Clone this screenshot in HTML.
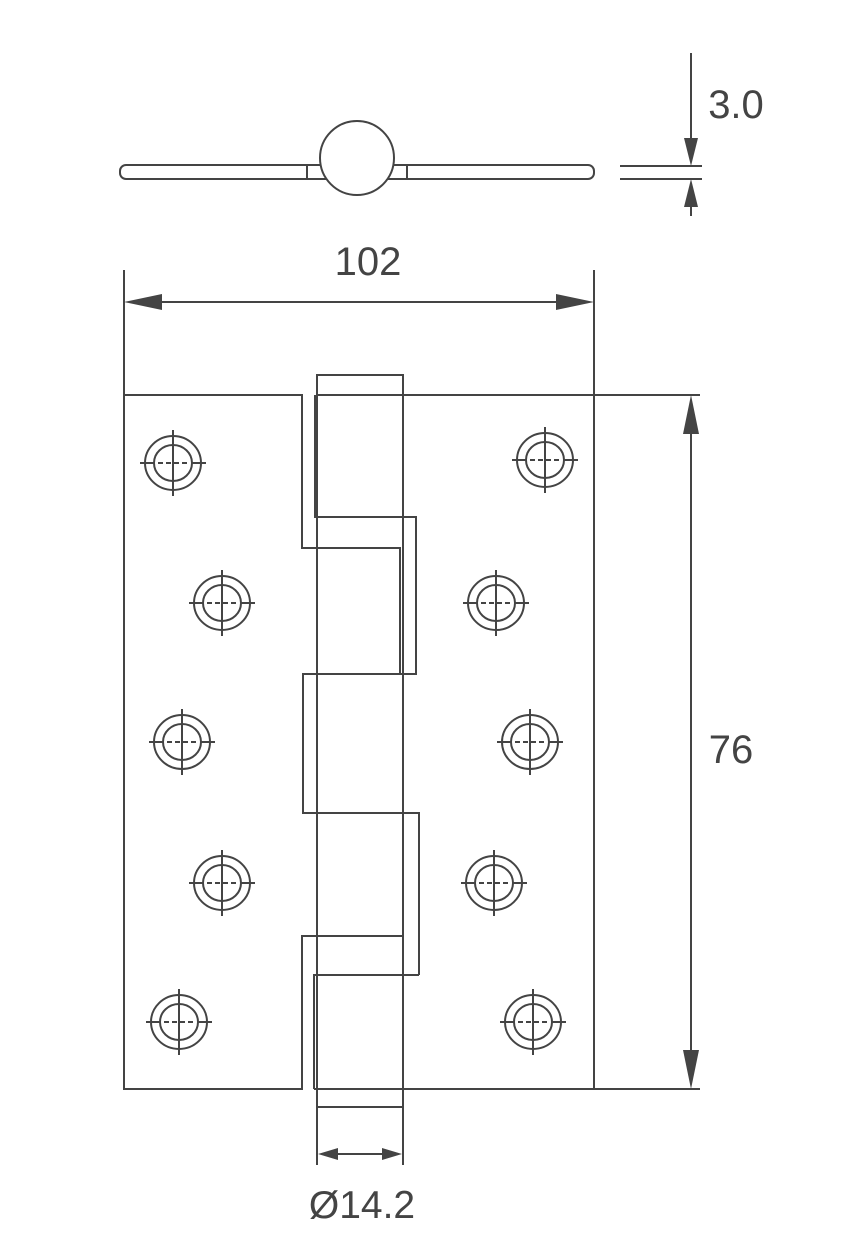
<!DOCTYPE html>
<html><head><meta charset="utf-8"><style>
html,body{margin:0;padding:0;background:#fff}
svg{display:block}
text{font-family:"Liberation Sans",sans-serif;fill:#444}
</style></head><body>
<svg width="848" height="1245" viewBox="0 0 848 1245" xmlns="http://www.w3.org/2000/svg">
<defs>
<g id="hole">
<ellipse cx="0" cy="0" rx="28" ry="27" fill="none" stroke="#444" stroke-width="2"/>
<ellipse cx="0" cy="0" rx="19" ry="18" fill="none" stroke="#444" stroke-width="2"/>
<line x1="-33" y1="0" x2="-19" y2="0" stroke="#444" stroke-width="2"/>
<line x1="19" y1="0" x2="33" y2="0" stroke="#444" stroke-width="2"/>
<line x1="-15" y1="0" x2="15" y2="0" stroke="#444" stroke-width="2" stroke-dasharray="5,3"/>
<line x1="0" y1="-33" x2="0" y2="33" stroke="#444" stroke-width="2"/>
</g>
</defs>
<g fill="none" stroke="#444" stroke-width="2">
<rect x="120" y="165" width="474" height="14" rx="6"/>
<line x1="307" y1="165" x2="307" y2="179"/>
<line x1="407" y1="165" x2="407" y2="179"/>
<ellipse cx="357" cy="158" rx="37" ry="37" fill="#fff"/>
<line x1="620" y1="166" x2="702" y2="166"/>
<line x1="620" y1="179" x2="702" y2="179"/>
<line x1="691" y1="53" x2="691" y2="150"/>
<line x1="691" y1="195" x2="691" y2="216"/>
<line x1="124" y1="270" x2="124" y2="395"/>
<line x1="594" y1="270" x2="594" y2="1089"/>
<line x1="150" y1="302" x2="570" y2="302"/>
<polyline points="124,395 302,395 302,548 400,548 400,674 303,674 303,813 419,813 419,975"/>
<polyline points="402,936 302,936 302,1089 124,1089 124,395"/>
<line x1="317" y1="395" x2="700" y2="395"/>
<line x1="314" y1="1089" x2="700" y2="1089"/>
<polyline points="315,395 315,517 416,517 416,674 400,674"/>
<polyline points="419,975 314,975 314,1089"/>
<rect x="317" y="375" width="86" height="732"/>
<line x1="317" y1="1107" x2="317" y2="1165"/>
<line x1="403" y1="1107" x2="403" y2="1165"/>
<line x1="335" y1="1154" x2="385" y2="1154"/>
<line x1="691" y1="420" x2="691" y2="1065"/>
</g>
<g fill="#444">
<polygon points="691,166 684,138 698,138"/>
<polygon points="691,179 684,207 698,207"/>
<polygon points="124,302 162,294 162,310"/>
<polygon points="594,302 556,294 556,310"/>
<polygon points="691,395 683,434 699,434"/>
<polygon points="691,1089 683,1050 699,1050"/>
<polygon points="318,1154 338,1148 338,1160"/>
<polygon points="402,1154 382,1148 382,1160"/>
</g>
<use href="#hole" x="173" y="463"/>
<use href="#hole" x="222" y="603"/>
<use href="#hole" x="182" y="742"/>
<use href="#hole" x="222" y="883"/>
<use href="#hole" x="179" y="1022"/>
<use href="#hole" x="545" y="460"/>
<use href="#hole" x="496" y="603"/>
<use href="#hole" x="530" y="742"/>
<use href="#hole" x="494" y="883"/>
<use href="#hole" x="533" y="1022"/>
<text x="736" y="118" font-size="40" text-anchor="middle">3.0</text>
<text x="368" y="275" font-size="40" text-anchor="middle">102</text>
<text x="731" y="763" font-size="40" text-anchor="middle">76</text>
<text x="362" y="1218" font-size="39" text-anchor="middle">Ø14.2</text>
</svg>
</body></html>
